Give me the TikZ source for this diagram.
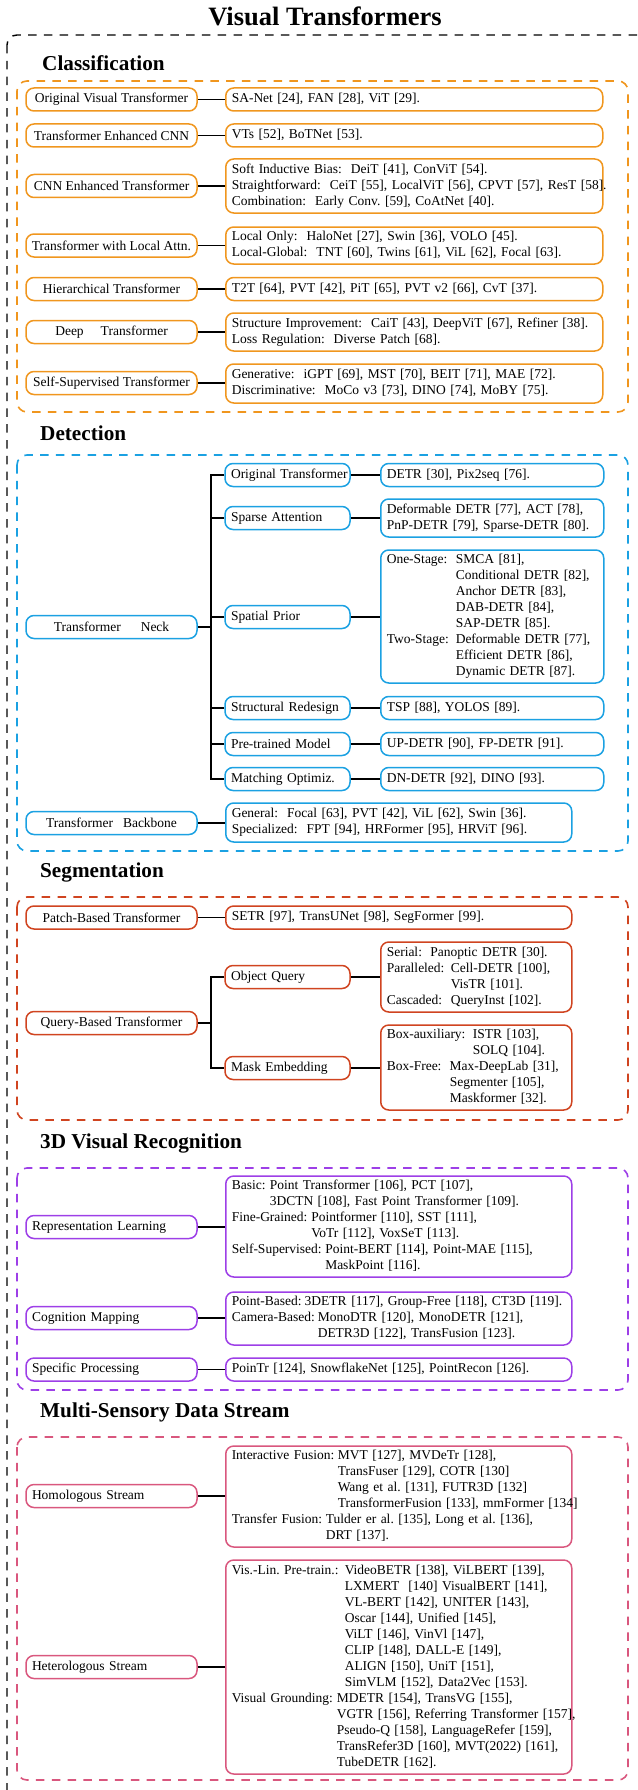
\documentclass[tikz,border=0pt]{standalone}
\usepackage{fontspec}
\setmainfont{Liberation Serif}
\definecolor{cOr}{HTML}{F0961E}
\definecolor{cBl}{HTML}{1BA1E2}
\definecolor{cRd}{HTML}{D04420}
\definecolor{cPu}{HTML}{9D3FE7}
\definecolor{cPk}{HTML}{D9577E}
\newcommand\lbl[2]{\makebox[#1pt][l]{#2}}
\newcommand\rows[1]{\begin{tabular}{@{}l@{}}#1\end{tabular}}
\tikzset{
  txt/.style={font=\fontsize{13.5}{16}\selectfont},
  lnode/.style={txt, draw=#1, line width=1.5pt, rounded corners=8pt, minimum width=171pt, minimum height=23pt, inner sep=0pt},
  lnodeL/.style={lnode=#1, text width=159pt, align=left},
  mnode/.style={lnode=#1, minimum width=125pt, text width=113pt, align=left},
  rbox/.style={txt, draw=#1, line width=1.5pt, rounded corners=8pt, inner xsep=6pt, inner ysep=0pt, align=left, anchor=west},
  conn/.style={draw=black, line width=1.3pt},
  sect/.style={draw=#1, line width=1.6pt, dash pattern=on 8.5pt off 7.3pt, rounded corners=10pt},
  head/.style={anchor=base west, inner sep=0pt, font=\fontsize{21.2}{25}\selectfont\bfseries},
}
\begin{document}
\begin{tikzpicture}[x=1pt,y=-1pt]
\useasboundingbox (0,0) rectangle (637,1790);
% outer frame
\draw[black, line width=1.4pt, dash pattern=on 8.5pt off 7.3pt, rounded corners=10pt] (7,35) rectangle (660,1810);
\node[anchor=base, inner sep=0pt, font=\fontsize{26.5}{30}\selectfont\bfseries] (title) at (325,26) {Visual Transformers};

% ---------------- Classification ----------------
\node[head] (hcls) at (42,71) {Classification};
\draw[sect=cOr] (17,81) rectangle (628,412);
\node[lnode=cOr] (c1) at (111.5,99.5) {Original Visual Transformer};
\node[rbox=cOr, text width=365pt, minimum height=23pt] (c1r) at (225,99.5) {\rows{SA-Net [24], FAN [28], ViT [29].}};
\node[lnode=cOr] (c2) at (111.5,135.5) {Transformer Enhanced CNN};
\node[rbox=cOr, text width=365pt, minimum height=23pt] (c2r) at (225,135.5) {\rows{VTs [52], BoTNet [53].}};
\node[lnode=cOr] (c3) at (111.5,186) {CNN Enhanced Transformer};
\node[rbox=cOr, text width=365pt, minimum height=54pt] (c3r) at (225,186) {\rows{Soft Inductive Bias:\ \ DeiT [41], ConViT [54].\\ Straightforward:\ \ CeiT [55], LocalViT [56], CPVT [57], ResT [58].\\ Combination:\ \ Early Conv.\ [59], CoAtNet [40].}};
\node[lnode=cOr] (c4) at (111.5,245.5) {Transformer with Local Attn.};
\node[rbox=cOr, text width=365pt, minimum height=37pt] (c4r) at (225,245.5) {\rows{Local Only:\ \ HaloNet [27], Swin [36], VOLO [45].\\ Local-Global:\ \ TNT [60], Twins [61], ViL [62], Focal [63].}};
\node[lnode=cOr] (c5) at (111.5,289) {Hierarchical Transformer};
\node[rbox=cOr, text width=365pt, minimum height=23pt] (c5r) at (225,289) {\rows{T2T [64], PVT [42], PiT [65], PVT v2 [66], CvT [37].}};
\node[lnode=cOr] (c6) at (111.5,332) {Deep\hspace{17pt}Transformer};
\node[rbox=cOr, text width=365pt, minimum height=38pt] (c6r) at (225,332) {\rows{Structure Improvement:\ \ CaiT [43], DeepViT [67], Refiner [38].\\ Loss Regulation:\ \ Diverse Patch [68].}};
\node[lnode=cOr] (c7) at (111.5,383) {Self-Supervised Transformer};
\node[rbox=cOr, text width=365pt, minimum height=39pt] (c7r) at (225,383.5) {\rows{Generative:\ \ iGPT [69], MST [70], BEIT [71], MAE [72].\\ Discriminative:\ \ MoCo v3 [73], DINO [74], MoBY [75].}};
\foreach \a in {c1,c2,c3,c4,c5,c6,c7}{\draw[conn] (\a.east) -- (\a.east -| \a r.west);}

% ---------------- Detection ----------------
\node[head] (hdet) at (40,440) {Detection};
\draw[sect=cBl] (17,455) rectangle (628,851);
\node[lnode=cBl] (neck) at (111.5,627) {Transformer\hspace{20pt}Neck};
\coordinate (dtk) at (211,627);
\node[mnode=cBl] (ot) at (287.5,475) {\mbox{Original Transformer}};
\node[rbox=cBl, text width=211pt, minimum height=23pt] (otr) at (380,475) {\rows{DETR [30], Pix2seq [76].}};
\node[mnode=cBl] (sa) at (287.5,518) {Sparse Attention};
\node[rbox=cBl, text width=211pt, minimum height=38pt] (sar) at (380,518) {\rows{Deformable DETR [77], ACT [78],\\ PnP-DETR [79], Sparse-DETR [80].}};
\node[mnode=cBl] (sp) at (287.5,617) {Spatial Prior};
\node[rbox=cBl, text width=211pt, minimum height=133pt] (spr) at (380,616.5) {\rows{\lbl{69}{One-Stage:}SMCA [81],\\ \lbl{69}{}Conditional DETR [82],\\ \lbl{69}{}Anchor DETR [83],\\ \lbl{69}{}DAB-DETR [84],\\ \lbl{69}{}SAP-DETR [85].\\ \lbl{69}{Two-Stage:}Deformable DETR [77],\\ \lbl{69}{}Efficient DETR [86],\\ \lbl{69}{}Dynamic DETR [87].}};
\node[mnode=cBl] (sr) at (287.5,708) {\mbox{Structural Redesign}};
\node[rbox=cBl, text width=211pt, minimum height=23pt] (srr) at (380,708) {\rows{TSP [88], YOLOS [89].}};
\node[mnode=cBl] (pm) at (287.5,744) {\mbox{Pre-trained Model}};
\node[rbox=cBl, text width=211pt, minimum height=23pt] (pmr) at (380,744) {\rows{UP-DETR [90], FP-DETR [91].}};
\node[mnode=cBl] (mo) at (287.5,779) {\mbox{Matching Optimiz.}};
\node[rbox=cBl, text width=211pt, minimum height=23pt] (mor) at (380,779) {\rows{DN-DETR [92], DINO [93].}};
\draw[conn] (neck.east) -- (dtk);
\draw[conn] (ot.west) -| (dtk) |- (mo.west);
\foreach \a in {sa,sp,sr,pm}{\draw[conn] (\a.west) -- (\a.west -| dtk);}
\foreach \a in {ot,sa,sp,sr,pm,mo}{\draw[conn] (\a.east) -- (\a.east -| \a r.west);}
\node[lnode=cBl] (bb) at (111.5,823) {Transformer\hspace{10pt}Backbone};
\node[rbox=cBl, text width=334pt, minimum height=39pt] (bbr) at (225,822.5) {\rows{General:\ \ Focal [63], PVT [42], ViL [62], Swin [36].\\ Specialized:\ \ FPT [94], HRFormer [95], HRViT [96].}};
\draw[conn] (bb.east) -- (bb.east -| bbr.west);

% ---------------- Segmentation ----------------
\node[head] (hseg) at (40,877) {Segmentation};
\draw[sect=cRd] (17,897) rectangle (628,1120);
\node[lnode=cRd] (pb) at (111.5,917.5) {Patch-Based Transformer};
\node[rbox=cRd, text width=334pt, minimum height=23pt] (pbr) at (225,917.5) {\rows{SETR [97], TransUNet [98], SegFormer [99].}};
\draw[conn] (pb.east) -- (pb.east -| pbr.west);
\node[lnode=cRd] (qb) at (111.5,1023) {Query-Based Transformer};
\coordinate (stk) at (211,1023);
\node[mnode=cRd] (oq) at (287.5,977) {Object Query};
\node[rbox=cRd, text width=179pt, minimum height=70pt] (oqr) at (380,977) {\rows{\lbl{43.5}{Serial:}Panoptic DETR [30].\\ \lbl{64}{Paralleled:}Cell-DETR [100],\\ \lbl{64}{}VisTR [101].\\ \lbl{64}{Cascaded:}QueryInst [102].}};
\node[mnode=cRd] (me) at (287.5,1068) {Mask Embedding};
\node[rbox=cRd, text width=179pt, minimum height=85pt] (mer) at (380,1067.5) {\rows{\lbl{86}{Box-auxiliary:}ISTR [103],\\ \lbl{86}{}SOLQ [104].\\ \lbl{63}{Box-Free:}Max-DeepLab [31],\\ \lbl{63}{}Segmenter [105],\\ \lbl{63}{}Maskformer [32].}};
\draw[conn] (qb.east) -- (stk);
\draw[conn] (oq.west) -| (stk) |- (me.west);
\foreach \a in {oq,me}{\draw[conn] (\a.east) -- (\a.east -| \a r.west);}

% ---------------- 3D Visual Recognition ----------------
\node[head] (h3d) at (40,1148) {3D Visual Recognition};
\draw[sect=cPu] (17,1168) rectangle (628,1390);
\node[lnodeL=cPu] (rl) at (111.5,1227) {Representation Learning};
\node[rbox=cPu, text width=334pt, minimum height=101pt] (rlr) at (225,1226.5) {\rows{\lbl{38}{Basic:}Point Transformer [106], PCT [107],\\ \lbl{38}{}3DCTN [108], Fast Point Transformer [109].\\ \lbl{79.5}{Fine-Grained:}Pointformer [110], SST [111],\\ \lbl{79.5}{}VoTr [112], VoxSeT [113].\\ \lbl{93.5}{Self-Supervised:}Point-BERT [114], Point-MAE [115],\\ \lbl{93.5}{}MaskPoint [116].}};
\node[lnodeL=cPu] (cm) at (111.5,1318) {Cognition Mapping};
\node[rbox=cPu, text width=334pt, minimum height=53pt] (cmr) at (225,1318.5) {\rows{\lbl{73}{Point-Based:}3DETR [117], Group-Free [118], CT3D [119].\\ \lbl{86}{Camera-Based:}MonoDTR [120], MonoDETR [121],\\ \lbl{86}{}DETR3D [122], TransFusion [123].}};
\node[lnodeL=cPu] (spc) at (111.5,1369.5) {Specific Processing};
\node[rbox=cPu, text width=334pt, minimum height=23pt] (spcr) at (225,1369.5) {\rows{PoinTr [124], SnowflakeNet [125], PointRecon [126].}};
\foreach \a in {rl,cm,spc}{\draw[conn] (\a.east) -- (\a.east -| \a r.west);}

% ---------------- Multi-Sensory Data Stream ----------------
\node[head] (hms) at (40,1417) {Multi-Sensory Data Stream};
\draw[sect=cPk] (17,1437) rectangle (628,1780);
\node[lnodeL=cPk] (hom) at (111.5,1496) {Homologous Stream};
\node[rbox=cPk, text width=334pt, minimum height=101pt] (homr) at (225,1496.5) {\rows{\lbl{106}{Interactive Fusion:}MVT [127], MVDeTr [128],\\ \lbl{106}{}TransFuser [129], COTR [130]\\ \lbl{106}{}Wang et al.\ [131], FUTR3D [132]\\ \lbl{106}{}TransformerFusion [133], mmFormer [134]\\ \lbl{94}{Transfer Fusion:}Tulder er al.\ [135], Long et al.\ [136],\\ \lbl{94}{}DRT [137].}};
\node[lnodeL=cPk] (het) at (111.5,1667) {Heterologous Stream};
\node[rbox=cPk, text width=334pt, minimum height=214pt] (hetr) at (225,1667) {\rows{\lbl{113}{Vis.-Lin.\ Pre-train.:}VideoBETR [138], ViLBERT [139],\\ \lbl{113}{}LXMERT\ \ [140] VisualBERT [141],\\ \lbl{113}{}VL-BERT [142], UNITER [143],\\ \lbl{113}{}Oscar [144], Unified [145],\\ \lbl{113}{}ViLT [146], VinVl [147],\\ \lbl{113}{}CLIP [148], DALL-E [149],\\ \lbl{113}{}ALIGN [150], UniT [151],\\ \lbl{113}{}SimVLM [152], Data2Vec [153].\\ \lbl{105}{Visual Grounding:}MDETR [154], TransVG [155],\\ \lbl{105}{}VGTR [156], Referring Transformer [157],\\ \lbl{105}{}Pseudo-Q [158], LanguageRefer [159],\\ \lbl{105}{}TransRefer3D [160], MVT(2022) [161],\\ \lbl{105}{}TubeDETR [162].}};
\foreach \a in {hom,het}{\draw[conn] (\a.east) -- (\a.east -| \a r.west);}
\end{tikzpicture}
\end{document}
